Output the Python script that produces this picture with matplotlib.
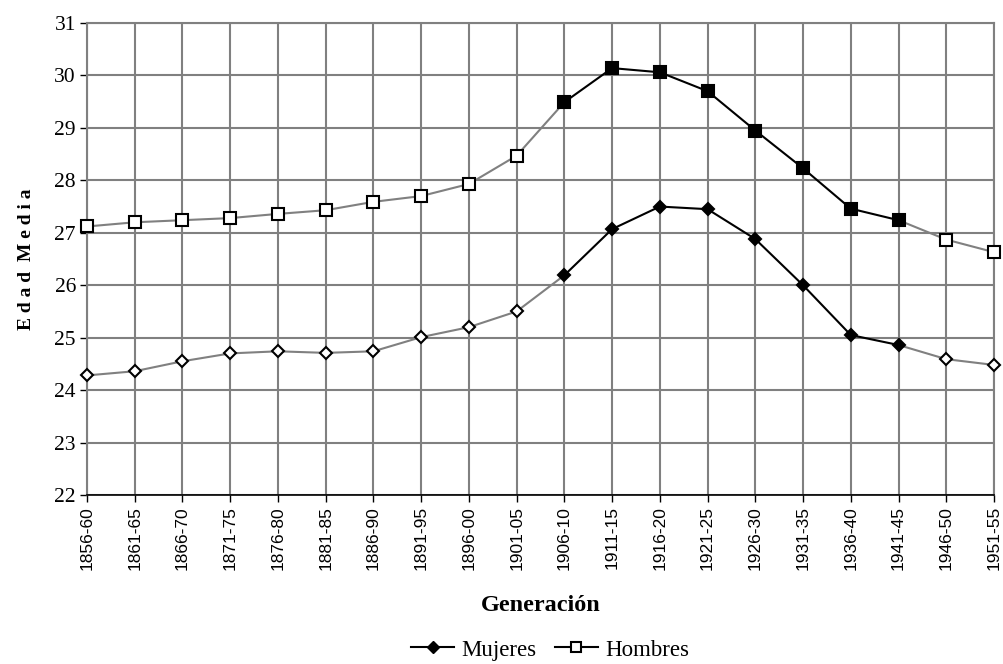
import matplotlib
matplotlib.use("Agg")
import matplotlib.pyplot as plt
from matplotlib.lines import Line2D

generaciones = ["1856-60", "1861-65", "1866-70", "1871-75", "1876-80", "1881-85",
                "1886-90", "1891-95", "1896-00", "1901-05", "1906-10", "1911-15",
                "1916-20", "1921-25", "1926-30", "1931-35", "1936-40", "1941-45",
                "1946-50", "1951-55"]
mujeres = [24.28, 24.36, 24.55, 24.70, 24.74, 24.71, 24.74, 25.01, 25.20, 25.50,
           26.19, 27.07, 27.50, 27.45, 26.88, 26.00, 25.05, 24.86, 24.59, 24.48]
hombres = [27.12, 27.20, 27.24, 27.28, 27.36, 27.43, 27.59, 27.70, 27.93, 28.47,
           29.49, 30.14, 30.06, 29.70, 28.95, 28.23, 27.46, 27.24, 26.87, 26.63]
# generations drawn with filled markers / black line (1906-10 .. 1941-45)
tramo_ini, tramo_fin = 10, 17

serif = "Liberation Serif"
sans = "Liberation Sans"
GRIS = "#808080"

fig = plt.figure(figsize=(10.04, 6.64), dpi=100)
ax = fig.add_axes([87 / 1004, (664 - 495) / 664, (994 - 87) / 1004, (495 - 23) / 664])

x = list(range(len(generaciones)))

def dibuja(vals, marker, ms):
    # gray segments before/after the highlighted range, black inside
    ax.plot(x[:tramo_ini + 1], vals[:tramo_ini + 1], color=GRIS, lw=1.5, zorder=3)
    ax.plot(x[tramo_fin:], vals[tramo_fin:], color=GRIS, lw=1.5, zorder=3)
    ax.plot(x[tramo_ini:tramo_fin + 1], vals[tramo_ini:tramo_fin + 1], color="black", lw=1.5, zorder=4)
    hueco = [i for i in x if i < tramo_ini or i > tramo_fin]
    lleno = [i for i in x if tramo_ini <= i <= tramo_fin]
    ax.plot(hueco, [vals[i] for i in hueco], ls="none", marker=marker, ms=ms,
            mfc="white", mec="black", mew=1.5, zorder=5, clip_on=False)
    ax.plot(lleno, [vals[i] for i in lleno], ls="none", marker=marker, ms=ms,
            mfc="black", mec="black", mew=1.5, zorder=5, clip_on=False)

dibuja(mujeres, "D", 6.5)
dibuja(hombres, "s", 8)

ax.set_xlim(0, len(generaciones) - 1)
ax.set_ylim(22, 31)
ax.set_yticks(range(22, 32))
ax.set_xticks(x)
ax.set_xticklabels(generaciones, rotation=90, fontfamily=sans, fontsize=12.5)
for lab in ax.get_yticklabels():
    lab.set_fontfamily(serif)
    lab.set_fontsize(15.5)

ax.grid(True, color=GRIS, lw=1.5)
ax.set_axisbelow(True)
for s in ["left", "top", "right"]:
    ax.spines[s].set_color(GRIS)
    ax.spines[s].set_linewidth(1.5)
ax.spines["bottom"].set_color("black")
ax.spines["bottom"].set_linewidth(1.2)
ax.tick_params(axis="both", direction="out", length=5, width=1, color="black", pad=3)

ax.set_ylabel("E d a d  M e d i a", fontfamily=serif, fontweight="bold", fontsize=14, labelpad=14)
ax.set_xlabel("Generación", fontfamily=serif, fontweight="bold", fontsize=17.5, labelpad=18)

handles = [
    Line2D([], [], color="black", lw=1.5, marker="D", ms=6.5, mfc="black", mec="black"),
    Line2D([], [], color="black", lw=1.5, marker="s", ms=7, mfc="white", mec="black", mew=1.5),
]
fig.legend(handles, ["Mujeres", "Hombres"], loc="center", bbox_to_anchor=(550 / 1004, 1 - 650 / 664),
           ncol=2, frameon=False, prop={"family": serif, "size": 16.5},
           handlelength=1.9, handletextpad=0.3, columnspacing=0.8)

fig.savefig("out.png", dpi=100)
